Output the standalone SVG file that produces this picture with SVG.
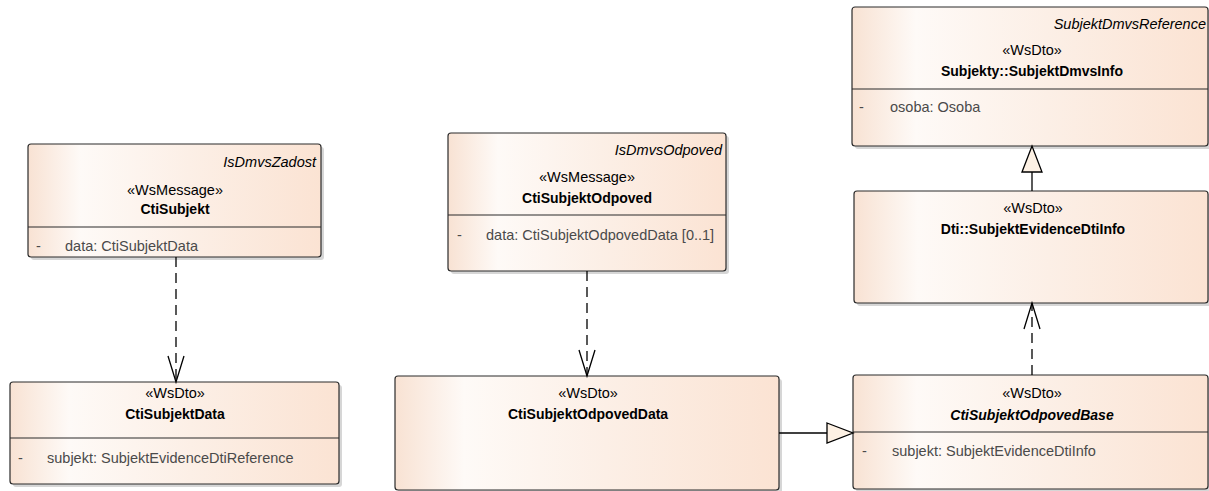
<svg xmlns="http://www.w3.org/2000/svg" width="1209" height="491" viewBox="0 0 1209 491">
<style>
  text { font-family: "Liberation Sans", Arial, sans-serif; font-size: 14.5px; fill: #000; }
  .st { text-anchor: middle; }
  .nm { text-anchor: middle; font-weight: bold; font-size: 14px; }
  .ab { font-style: italic; font-weight: bold; }
  .tag { text-anchor: end; font-style: italic; }
  .at { fill: #4a4a4a; }
  .box { fill: url(#g); stroke: #2b2b2b; stroke-width: 1.2; }
  .sh { fill: #d6d6d6; }
  .div { stroke: #2b2b2b; stroke-width: 1.2; }
  .dep { fill: none; stroke: #000; stroke-width: 1.3; stroke-dasharray: 10 6; }
  .gen { fill: none; stroke: #000; stroke-width: 1.3; }
</style>
<defs>
  <linearGradient id="g" x1="0" y1="0" x2="1" y2="0">
    <stop offset="0" stop-color="#f8e2d3"/>
    <stop offset="0.18" stop-color="#fefaf7"/>
    <stop offset="0.55" stop-color="#fcefe6"/>
    <stop offset="1" stop-color="#fbe3d3"/>
  </linearGradient>
  <marker id="open" markerUnits="userSpaceOnUse" markerWidth="30" markerHeight="20" refX="26" refY="8" orient="auto" overflow="visible">
    <path d="M0,0 L26,8 L0,16" fill="none" stroke="#000" stroke-width="1.3"/>
  </marker>
  <marker id="tri" markerUnits="userSpaceOnUse" markerWidth="30" markerHeight="24" refX="0" refY="10" orient="auto" overflow="visible">
    <path d="M0,0 L26,10 L0,20 Z" fill="#fdf1e4" stroke="#000" stroke-width="1.3"/>
  </marker>
</defs>

<g id="CtiSubjekt">
  <rect class="sh" x="31" y="147" width="293" height="113" rx="3"/>
  <rect class="box" x="28" y="144" width="293" height="113" rx="3"/>
  <line class="div" x1="28" y1="227" x2="321" y2="227"/>
  <text class="tag" x="316" y="167">IsDmvsZadost</text>
  <text class="st" x="175" y="195">«WsMessage»</text>
  <text class="nm" x="175" y="214">CtiSubjekt</text>
  <text class="at" x="36" y="251">-</text>
  <text class="at" x="65" y="251">data: CtiSubjektData</text>
</g>

<g id="CtiSubjektData">
  <rect class="sh" x="13" y="385" width="329" height="102" rx="3"/>
  <rect class="box" x="10" y="382" width="329" height="102" rx="3"/>
  <line class="div" x1="10" y1="438" x2="339" y2="438"/>
  <text class="st" x="175" y="398">«WsDto»</text>
  <text class="nm" x="175" y="419">CtiSubjektData</text>
  <text class="at" x="18" y="463">-</text>
  <text class="at" x="47" y="463">subjekt: SubjektEvidenceDtiReference</text>
</g>

<g id="CtiSubjektOdpoved">
  <rect class="sh" x="451" y="136" width="278" height="138" rx="3"/>
  <rect class="box" x="448" y="133" width="278" height="138" rx="3"/>
  <line class="div" x1="448" y1="215" x2="726" y2="215"/>
  <text class="tag" x="722" y="155">IsDmvsOdpoved</text>
  <text class="st" x="587" y="182">«WsMessage»</text>
  <text class="nm" x="587" y="203">CtiSubjektOdpoved</text>
  <text class="at" x="457" y="240">-</text>
  <text class="at" x="486" y="240">data: CtiSubjektOdpovedData [0..1]</text>
</g>

<g id="CtiSubjektOdpovedData">
  <rect class="sh" x="398" y="379" width="384" height="114" rx="3"/>
  <rect class="box" x="395" y="376" width="384" height="114" rx="3"/>
  <text class="st" x="588" y="398">«WsDto»</text>
  <text class="nm" x="588" y="419">CtiSubjektOdpovedData</text>
</g>

<g id="SubjektDmvsInfo">
  <rect class="sh" x="855" y="10" width="356" height="139" rx="3"/>
  <rect class="box" x="852" y="7" width="356" height="139" rx="3"/>
  <line class="div" x1="852" y1="89" x2="1208" y2="89"/>
  <text class="tag" x="1206" y="29">SubjektDmvsReference</text>
  <text class="st" x="1032" y="55">«WsDto»</text>
  <text class="nm" x="1032" y="76">Subjekty::SubjektDmvsInfo</text>
  <text class="at" x="859" y="112">-</text>
  <text class="at" x="890" y="112">osoba: Osoba</text>
</g>

<g id="SubjektEvidenceDtiInfo">
  <rect class="sh" x="857" y="194" width="354" height="112" rx="3"/>
  <rect class="box" x="854" y="191" width="354" height="112" rx="3"/>
  <text class="st" x="1033" y="213">«WsDto»</text>
  <text class="nm" x="1033" y="234">Dti::SubjektEvidenceDtiInfo</text>
</g>

<g id="CtiSubjektOdpovedBase">
  <rect class="sh" x="856" y="378" width="355" height="114" rx="3"/>
  <rect class="box" x="853" y="375" width="355" height="114" rx="3"/>
  <line class="div" x1="853" y1="432" x2="1208" y2="432"/>
  <text class="st" x="1032" y="398">«WsDto»</text>
  <text class="nm ab" x="1032" y="420">CtiSubjektOdpovedBase</text>
  <text class="at" x="862" y="456">-</text>
  <text class="at" x="892" y="456">subjekt: SubjektEvidenceDtiInfo</text>
</g>

<g id="connectors">
  <path class="dep" d="M176,257 L176,382" marker-end="url(#open)"/>
  <path class="dep" d="M587,271 L587,376" marker-end="url(#open)"/>
  <path class="dep" d="M1032,375 L1032,303" marker-end="url(#open)"/>
  <path class="gen" d="M1032,191 L1032,172" marker-end="url(#tri)"/>
  <path class="gen" d="M779,433 L827,433" marker-end="url(#tri)"/>
</g>
</svg>
